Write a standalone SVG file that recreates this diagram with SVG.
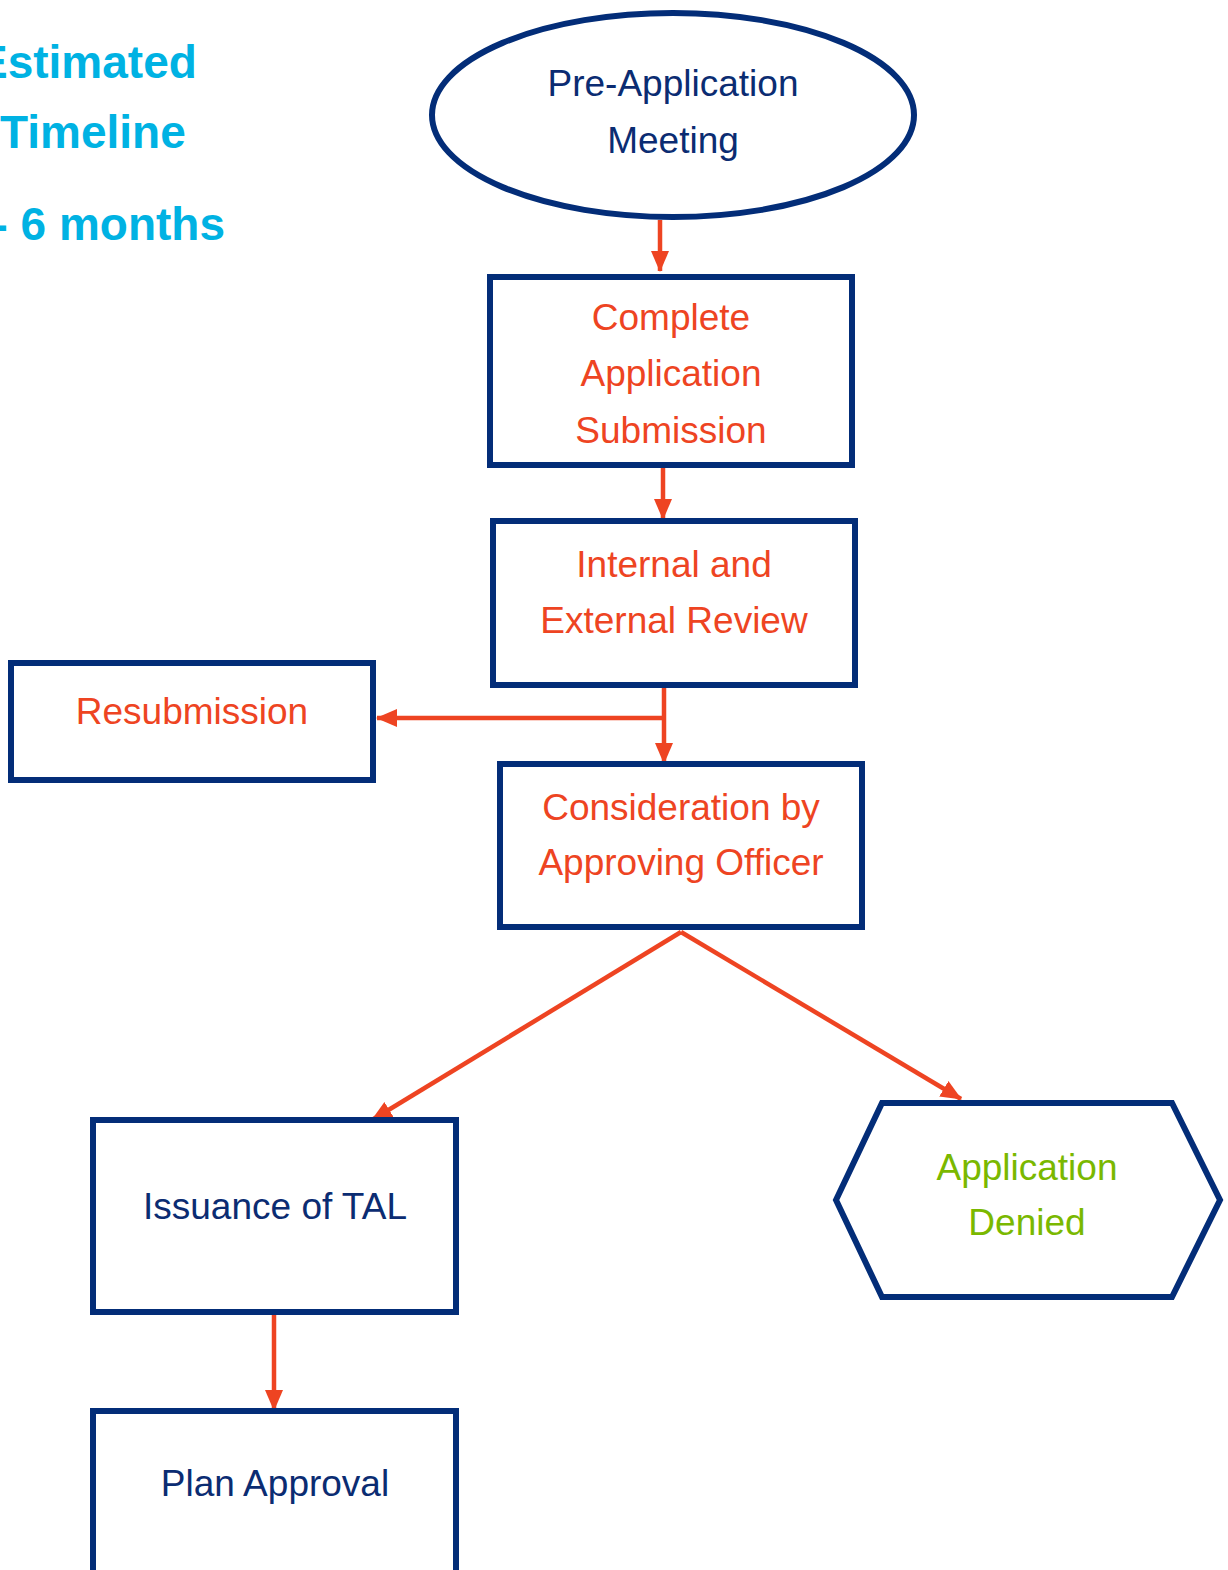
<svg xmlns="http://www.w3.org/2000/svg" width="1228" height="1570" viewBox="0 0 1228 1570">
<style>
.shape{fill:#fff;stroke:#032d78;stroke-width:6}
.t{font-family:"Liberation Sans",Arial,sans-serif;font-size:37px;text-anchor:middle}
.navy{fill:#0b2c72}
.red{fill:#ee4422}
.green{fill:#7ab800}
.title{font-family:"Liberation Sans",Arial,sans-serif;font-size:46px;font-weight:bold;fill:#00b2e3}
.conn{fill:none;stroke:#ee4422;stroke-width:4.5}
</style>
<defs>
<marker id="ah" markerUnits="userSpaceOnUse" markerWidth="22" markerHeight="22" viewBox="0 0 22 22" refX="20" refY="11" orient="auto">
<path d="M0,2 L21,11 L0,20 Z" fill="#ee4422"/>
</marker>
</defs>
<rect width="1228" height="1570" fill="#fff"/>
<g id="timeline">
<text class="title" x="-23" y="78">Estimated</text>
<text class="title" x="0" y="148">Timeline</text>
<text class="title" x="225" y="240" text-anchor="end">- 6 months</text>
</g>
<g id="connectors">
<line class="conn" x1="660" y1="220" x2="660" y2="271" marker-end="url(#ah)"/>
<line class="conn" x1="663" y1="467" x2="663" y2="519" marker-end="url(#ah)"/>
<line class="conn" x1="664" y1="687" x2="664" y2="763" marker-end="url(#ah)"/>
<polyline class="conn" points="664,718 377,718" marker-end="url(#ah)"/>
<line class="conn" x1="681" y1="932" x2="372" y2="1120" marker-end="url(#ah)"/>
<line class="conn" x1="681" y1="932" x2="961" y2="1099" marker-end="url(#ah)"/>
<line class="conn" x1="274" y1="1314" x2="274" y2="1410" marker-end="url(#ah)"/>
</g>
<g id="pre-application">
<ellipse class="shape" cx="673" cy="115" rx="241" ry="102"/>
<text class="t navy" x="673" y="96">Pre-Application</text>
<text class="t navy" x="673" y="153">Meeting</text>
</g>
<g id="complete-application">
<rect class="shape" x="490" y="277" width="362" height="188"/>
<text class="t red" x="671" y="330">Complete</text>
<text class="t red" x="671" y="386">Application</text>
<text class="t red" x="671" y="443">Submission</text>
</g>
<g id="review">
<rect class="shape" x="493" y="521" width="362" height="164"/>
<text class="t red" x="674" y="577">Internal and</text>
<text class="t red" x="674" y="633">External Review</text>
</g>
<g id="resubmission">
<rect class="shape" x="11" y="663" width="362" height="117"/>
<text class="t red" x="192" y="724">Resubmission</text>
</g>
<g id="consideration">
<rect class="shape" x="500" y="764" width="362" height="163"/>
<text class="t red" x="681" y="820">Consideration by</text>
<text class="t red" x="681" y="875">Approving Officer</text>
</g>
<g id="issuance">
<rect class="shape" x="93" y="1120" width="363" height="192"/>
<text class="t navy" x="275" y="1219">Issuance of TAL</text>
</g>
<g id="plan-approval">
<rect class="shape" x="93" y="1411" width="363" height="200"/>
<text class="t navy" x="275" y="1496">Plan Approval</text>
</g>
<g id="denied">
<polygon class="shape" points="836,1200 882,1103 1172,1103 1220,1200 1172,1297 882,1297"/>
<text class="t green" x="1027" y="1180">Application</text>
<text class="t green" x="1027" y="1235">Denied</text>
</g>
</svg>
